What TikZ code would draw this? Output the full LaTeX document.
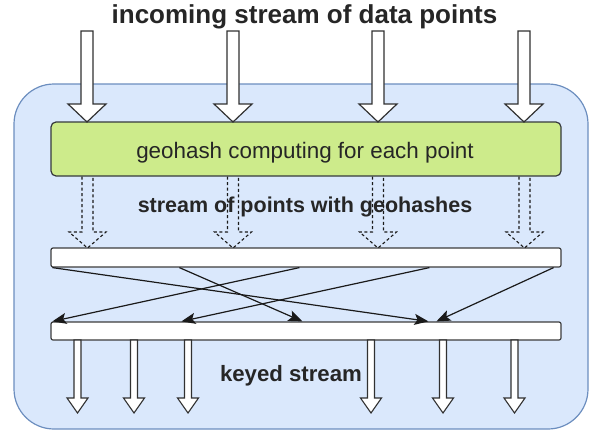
\documentclass[tikz,border=0pt]{standalone}
\usepackage{fontspec}
\setmainfont{Liberation Sans}
\usetikzlibrary{arrows.meta,calc}

\definecolor{laneblue}{HTML}{DAE8FC}
\definecolor{laneedge}{HTML}{6C8EBF}
\definecolor{stagegreen}{HTML}{CDEB8B}
\definecolor{stageedge}{HTML}{36393D}
\definecolor{ink}{HTML}{1A1A1A}
\definecolor{textgrey}{HTML}{262626}

% hollow downward block arrow: style, x, top y, tip y, shaft half width, head half width, head length
\newcommand\downblock[7]{%
  \draw[#1] (#2-#5,#3) -- (#2-#5,#4-#7) -- (#2-#6,#4-#7) -- (#2,#4)
    -- (#2+#6,#4-#7) -- (#2+#5,#4-#7) -- (#2+#5,#3) -- cycle;}
% same, open at the top end
\newcommand\downblockopen[7]{%
  \draw[#1] (#2-#5,#3) -- (#2-#5,#4-#7) -- (#2-#6,#4-#7) -- (#2,#4)
    -- (#2+#6,#4-#7) -- (#2+#5,#4-#7) -- (#2+#5,#3);}

\begin{document}
\begin{tikzpicture}[x=1pt,y=-1pt,
  lane/.style={draw=laneedge,fill=laneblue,line width=1.2pt,rounded corners=40pt,
    minimum width=574pt,minimum height=345pt,inner sep=0pt},
  stage/.style={draw=stageedge,fill=stagegreen,line width=1.2pt,rounded corners=5pt,
    minimum width=510pt,minimum height=54pt,inner sep=0pt},
  barbox/.style={draw=ink!85,fill=white,line width=1.2pt,rounded corners=2pt,
    minimum width=510pt,minimum height=18pt,inner sep=0pt},
  label/.style={text=textgrey,inner sep=0pt,anchor=base},
  bigin/.style={draw=ink!90,fill=white,line width=1.2pt,line join=miter},
  dashin/.style={draw=ink,line width=1.1pt,dash pattern=on 3pt off 2.5pt},
  outarrow/.style={draw=ink!90,fill=white,line width=1.1pt},
  link/.style={draw=ink,line width=1.2pt,-{Stealth[length=14pt,width=11pt,inset=3pt]}}]

\useasboundingbox (0,0) rectangle (589,434);

% container
\node[lane] (lane) at (301,256.5) {};

% stages
\node[stage] (hash) at (306,149) {};
\node[label] (hashtxt) at (305,158.5) {\fontsize{22.4}{24}\selectfont geohash computing for each point};
\node[barbox,minimum height=19pt] (bar1) at (306,257.5) {};
\node[barbox] (bar2) at (306,331) {};

% texts
\node[label] (title) at (304.5,23) {\fontsize{26}{28}\selectfont\bfseries incoming stream of data points};
\node[label] (mid) at (305,212) {\fontsize{21.5}{24}\selectfont\bfseries stream of points with geohashes};
\node[label] (keyed) at (291,381.5) {\fontsize{22.2}{24}\selectfont\bfseries keyed stream};

% incoming arrows
\foreach \cx in {87,233,378,524}{
  \downblock{bigin}{\cx}{31}{122}{6}{19}{18}
}

% dashed arrows carrying hashed points
\foreach \cx in {87.5,233,378,524.5}{
  \downblockopen{dashin}{\cx}{176.6}{248}{5.5}{18.5}{16}
}

% keyed output arrows
\foreach \cx in {77.5,134,188,371,443,514.5}{
  \downblock{outarrow}{\cx}{340}{413}{3.5}{10.5}{15}
}

% repartitioning between the two bars
\draw[link] ([xshift=2pt]bar1.south west) -- ([xshift=378pt]bar2.north west);
\draw[link] ([xshift=129pt]bar1.south west) -- ([xshift=252pt]bar2.north west);
\draw[link] ([xshift=249pt]bar1.south west) -- ([xshift=2pt]bar2.north west);
\draw[link] ([xshift=379pt]bar1.south west) -- ([xshift=131pt]bar2.north west);
\draw[link] ([xshift=-8pt]bar1.south east) -- ([xshift=386pt]bar2.north west);

\end{tikzpicture}
\end{document}
